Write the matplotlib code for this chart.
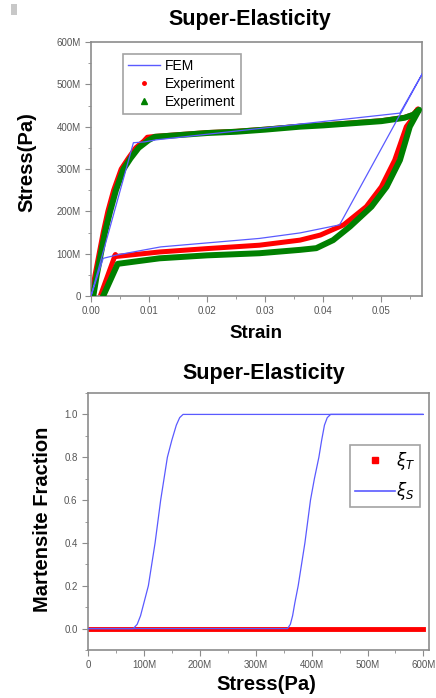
import matplotlib
matplotlib.use("Agg")
import matplotlib.pyplot as plt
from matplotlib.lines import Line2D
from matplotlib.patches import Rectangle
from matplotlib.ticker import MultipleLocator, FuncFormatter

plt.rcParams['font.family'] = ['Liberation Sans', 'DejaVu Sans']

# --- stress-strain data (stress in MPa) ---
fem_strain = [0.0, 0.0073, 0.0092, 0.0113, 0.0532, 0.0575, 0.0428, 0.036, 0.029, 0.012, 0.0045, 0.0021, 0.0]
fem_stress = [0, 362, 364, 369, 432, 536, 168, 149, 136, 116, 97, 89, 0]

red_strain = [0.0001, 0.0007, 0.0014, 0.0021, 0.0029, 0.0039, 0.0052, 0.0064, 0.0077, 0.0091, 0.0097,
              0.011, 0.015, 0.02, 0.025, 0.03, 0.036, 0.04, 0.045, 0.05, 0.054, 0.0555, 0.0563,
              0.0554, 0.0543, 0.0523, 0.050, 0.0474, 0.0435, 0.0395, 0.036, 0.029, 0.02, 0.0118,
              0.0041, 0.0042, 0.0016]
red_stress = [0, 50, 100, 150, 200, 250, 300, 325, 350, 366, 375,
              377, 381, 386, 389, 394, 401, 404, 409, 414, 422, 429, 442,
              420, 400, 321, 258, 211, 168, 144, 132, 120, 112, 104,
              93, 98, 0]

green_strain = [0.0004, 0.001, 0.0017, 0.0024, 0.0033, 0.0043, 0.0056, 0.0068, 0.0082, 0.0099,
                0.011, 0.015, 0.02, 0.025, 0.03, 0.036, 0.04, 0.045, 0.05, 0.054, 0.0555, 0.0565,
                0.0549, 0.0532, 0.0509, 0.0483, 0.0446, 0.0417, 0.0388, 0.036, 0.029, 0.02, 0.0118,
                0.0046, 0.0021]
green_stress = [0, 50, 100, 150, 200, 250, 300, 325, 350, 368,
                376, 380, 385, 388, 393, 400, 403, 408, 413, 421, 428, 440,
                400, 321, 258, 211, 164, 132, 113, 109, 101, 96, 89,
                76, 0]

# --- martensite fraction data (stress in MPa) ---
xi_t_stress = [0, 600]
xi_t = [0, 0]

xi_s_stress = [0, 357, 362, 366, 370, 376, 382, 388, 393, 398, 405, 413, 418, 423, 428, 434, 600,
               170, 164, 158, 150, 142, 136, 130, 125, 120, 114, 108, 100, 94, 88, 81, 0]
xi_s = [0, 0, 0.02, 0.06, 0.12, 0.2, 0.3, 0.4, 0.5, 0.6, 0.7, 0.8, 0.88, 0.95, 0.985, 1.0, 1.0,
        1.0, 0.985, 0.95, 0.88, 0.8, 0.7, 0.6, 0.5, 0.4, 0.3, 0.2, 0.12, 0.06, 0.02, 0, 0]

blue = '#5a5aff'
spine_col = '#8c8c8c'
tick_col = '#555555'


def mega(v, pos):
    if abs(v) < 1:
        return '0'
    return '%dM' % round(v / 1e6)


def style_axes(ax):
    for s in ax.spines.values():
        s.set_color(spine_col)
        s.set_linewidth(1.2)
    ax.tick_params(which='both', direction='out', colors=spine_col, labelcolor=tick_col,
                   labelsize=7, top=False, right=False)
    ax.tick_params(which='major', length=4)
    ax.tick_params(which='minor', length=2.5)


fig = plt.figure(figsize=(4.36, 6.98), dpi=100)
W, H = 436.0, 698.0

fig.patches.append(Rectangle((11 / W, 1 - 15 / H), 6 / W, 11 / H, transform=fig.transFigure,
                             facecolor='#c8c8c8', edgecolor='none'))

# ---------------- top plot ----------------
ax1 = fig.add_axes([91 / W, 1 - 296 / H, (422 - 91) / W, (296 - 42) / H])
ax1.plot(red_strain, [v * 1e6 for v in red_stress], color='#ff0000', lw=3.6,
         solid_joinstyle='round', zorder=2)
ax1.plot(green_strain, [v * 1e6 for v in green_stress], color='#008000', lw=4.3,
         solid_joinstyle='round', zorder=3)
ax1.plot(fem_strain, [v * 1e6 for v in fem_stress], color=blue, lw=0.9, zorder=4)
ax1.set_xlim(0, 0.057)
ax1.set_ylim(0, 600e6)
ax1.xaxis.set_major_locator(MultipleLocator(0.01))
ax1.xaxis.set_minor_locator(MultipleLocator(0.005))
ax1.xaxis.set_major_formatter(FuncFormatter(lambda v, p: '%.2f' % v))
ax1.yaxis.set_major_locator(MultipleLocator(100e6))
ax1.yaxis.set_minor_locator(MultipleLocator(50e6))
ax1.yaxis.set_major_formatter(FuncFormatter(mega))
style_axes(ax1)

handles1 = [Line2D([], [], color=blue, lw=1),
            Line2D([], [], color='#ff0000', marker='o', ms=2.5, ls='none'),
            Line2D([], [], color='#008000', marker='^', ms=4, ls='none')]
leg1 = fig.legend(handles1, ['FEM', 'Experiment', 'Experiment'], loc='upper left',
                  bbox_to_anchor=(123 / W, 1 - 54 / H), fontsize=10, frameon=True,
                  fancybox=False, handlelength=2.3, labelspacing=0.3, borderpad=0.35,
                  handletextpad=0.4, borderaxespad=0)
leg1.get_frame().set_edgecolor(spine_col)
leg1.get_frame().set_linewidth(1.2)

fig.text(250 / W, 1 - 19 / H, 'Super-Elasticity', ha='center', va='center',
         fontsize=15.5, fontweight='bold')
fig.text(27 / W, 1 - 162 / H, 'Stress(Pa)', ha='center', va='center', rotation=90,
         fontsize=14.5, fontweight='bold')
fig.text(256 / W, 1 - 333 / H, 'Strain', ha='center', va='center',
         fontsize=13.5, fontweight='bold')

# ---------------- bottom plot ----------------
ax2 = fig.add_axes([88 / W, 1 - 650 / H, (429 - 88) / W, (650 - 393) / H])
ax2.plot([v * 1e6 for v in xi_t_stress], xi_t, color='#ff0000', lw=3.5, zorder=2)
ax2.plot([v * 1e6 for v in xi_s_stress], xi_s, color=blue, lw=0.9, zorder=3)
ax2.set_xlim(0, 610e6)
ax2.set_ylim(-0.1, 1.1)
ax2.xaxis.set_major_locator(MultipleLocator(100e6))
ax2.xaxis.set_minor_locator(MultipleLocator(50e6))
ax2.xaxis.set_major_formatter(FuncFormatter(mega))
ax2.yaxis.set_major_locator(MultipleLocator(0.2))
ax2.yaxis.set_minor_locator(MultipleLocator(0.1))
ax2.yaxis.set_major_formatter(FuncFormatter(lambda v, p: '%.1f' % (abs(v) if abs(v) < 1e-9 else v)))
style_axes(ax2)

handles2 = [Line2D([], [], color='#ff0000', marker='s', ms=4, ls='none'),
            Line2D([], [], color=blue, lw=1.2)]
leg2 = fig.legend(handles2, [r'$\xi_T$', r'$\xi_S$'], loc='upper left',
                  bbox_to_anchor=(350 / W, 1 - 445 / H), fontsize=12, frameon=True,
                  fancybox=False, handlelength=2.4, labelspacing=0.5, borderpad=0.3,
                  handletextpad=0.05, borderaxespad=0)
leg2.get_frame().set_edgecolor(spine_col)
leg2.get_frame().set_linewidth(1.2)

fig.text(264 / W, 1 - 373 / H, 'Super-Elasticity', ha='center', va='center',
         fontsize=15.5, fontweight='bold')
fig.text(42 / W, 1 - 519 / H, 'Martensite Fraction', ha='center', va='center', rotation=90,
         fontsize=14.5, fontweight='bold')
fig.text(266 / W, 1 - 685 / H, 'Stress(Pa)', ha='center', va='center',
         fontsize=14.5, fontweight='bold')

fig.savefig('out.png', dpi=100)
